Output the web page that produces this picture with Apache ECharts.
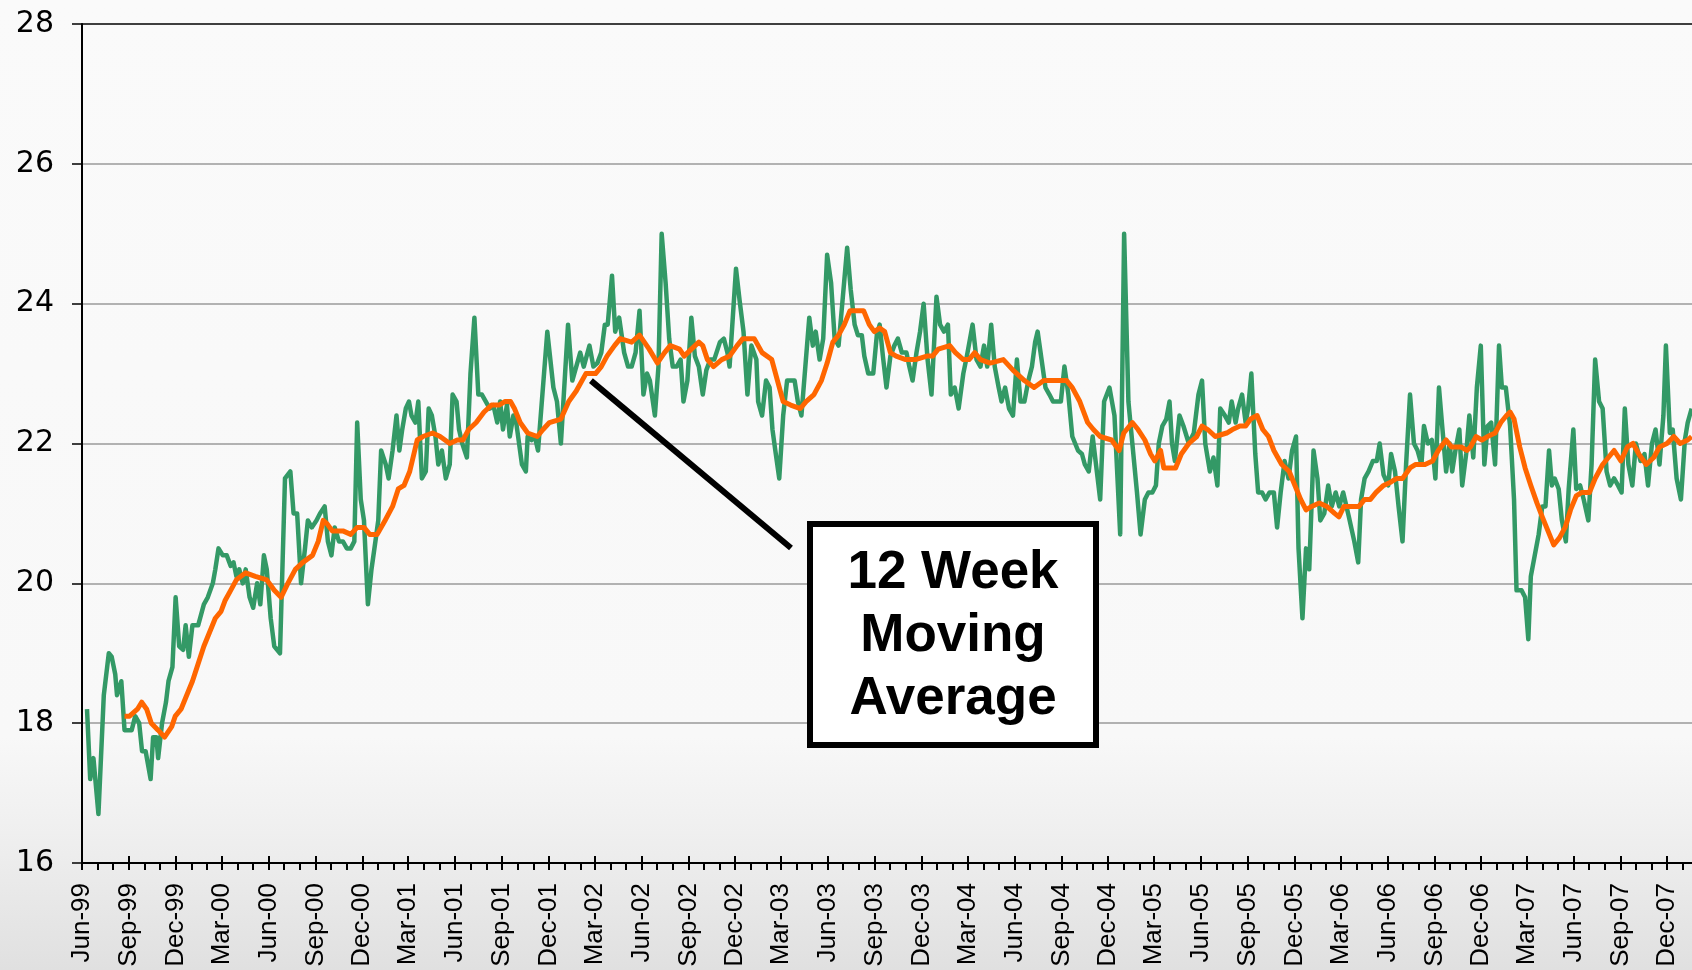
<!DOCTYPE html>
<html>
<head>
<meta charset="utf-8">
<title>12 Week Moving Average</title>
<script src="https://cdn.jsdelivr.net/npm/echarts@6/dist/echarts.min.js"></script>
<style>
  html, body { margin: 0; padding: 0; background: #fafafa; }
  #chart { width: 1692px; height: 970px; }
</style>
</head>
<body>
<div id="chart"></div>
<script>
// weeks counted from 1 Jun 1999
const weeklyWeeks = [
  1.4, 2.3, 3.2, 4.6, 6.1, 7.5, 8.3, 9.3, 9.8, 11.0, 11.9, 13.9, 14.9, 16.0, 16.8, 17.8, 19.2, 19.9, 20.8, 21.3,
  22.4, 23.5, 24.2, 25.3, 26.2, 27.2, 28.3, 29.0, 29.9, 30.9, 32.5, 34.1, 35.2, 36.6, 37.3, 38.2, 39.4, 40.5, 41.6, 42.4,
  43.2, 44.0, 45.0, 45.8, 46.9, 47.9, 49.0, 49.9, 50.9, 51.7, 52.8, 53.8, 55.4, 56.8, 58.3, 59.2, 60.2, 61.3, 62.4, 63.2,
  64.3, 65.6, 66.6, 67.9, 68.8, 69.8, 70.7, 71.9, 73.0, 74.1, 75.2, 76.2, 77.0, 78.0, 78.9, 80.0, 81.0, 82.1, 82.9, 83.7,
  85.0, 85.8, 86.9, 88.0, 88.8, 89.6, 90.6, 91.5, 92.2, 93.3, 94.1, 95.1, 96.2, 97.0, 97.9, 98.9, 99.7, 100.7, 101.8, 102.9,
  103.7, 104.8, 105.5, 106.4, 107.7, 108.7, 109.8, 110.9, 111.9, 113.0, 114.1, 115.1, 116.2, 117.0, 117.8, 118.9, 119.7, 120.7, 121.5, 122.3,
  123.1, 124.2, 124.7, 125.8, 126.7, 127.6, 130.2, 131.9, 132.9, 134.0, 136.0, 137.2, 139.4, 140.4, 142.0, 143.1, 144.2, 145.3, 146.3, 147.1,
  148.3, 149.2, 150.3, 151.7, 152.8, 153.8, 154.9, 156.0, 157.1, 158.1, 158.9, 160.3, 161.3, 162.2, 163.3, 164.3, 165.3, 166.4, 167.5, 168.3,
  169.4, 170.5, 171.5, 172.6, 173.7, 174.7, 175.8, 176.9, 178.5, 179.6, 180.6, 181.2, 183.0, 184.0, 185.1, 186.2, 187.3, 188.7, 189.2, 190.3,
  191.4, 192.4, 193.2, 194.0, 195.1, 196.2, 197.3, 199.4, 200.3, 201.3, 202.4, 203.5, 204.5, 205.3, 206.4, 207.4, 208.5, 209.6, 210.6, 211.7,
  214.1, 215.1, 216.2, 217.1, 218.2, 218.9, 220.0, 221.4, 222.4, 223.2, 224.1, 225.1, 226.2, 227.3, 228.3, 229.4, 230.7, 231.5, 232.4, 233.5,
  234.5, 235.5, 236.6, 237.7, 239.1, 240.1, 241.2, 242.3, 243.1, 244.2, 245.3, 246.6, 247.6, 249.2, 250.3, 251.4, 252.4, 253.3, 254.4, 255.4,
  256.5, 257.3, 258.3, 259.4, 260.5, 261.6, 262.6, 263.7, 264.8, 265.8, 266.7, 267.4, 268.5, 269.6, 270.7, 271.7, 273.9, 274.9, 276.0, 277.1,
  278.7, 279.8, 280.6, 281.7, 282.8, 284.9, 286.0, 287.5, 288.9, 290.5, 291.6, 292.8, 293.9, 295.2, 296.2, 297.4, 298.4, 299.5, 300.5, 301.3,
  302.3, 303.4, 304.3, 305.0, 305.8, 307.1, 308.2, 309.7, 311.1, 312.4, 313.4, 314.3, 315.6, 316.6, 317.7, 318.5, 319.8, 320.9, 321.7, 322.8,
  323.5, 324.6, 325.6, 326.3, 327.2, 328.3, 329.1, 330.2, 331.2, 332.3, 333.5, 334.4, 335.4, 336.5, 337.6, 338.6, 339.7, 340.4, 341.5, 342.5,
  343.4, 344.6, 345.7, 346.5, 347.6, 348.7, 349.7, 350.8, 351.8, 352.9, 354.5, 356.0, 357.1, 357.9, 358.9, 360.0, 361.2, 362.3, 363.1, 364.2,
  365.5, 366.3, 367.4, 368.4, 369.5, 370.5, 371.6, 372.7, 373.7, 374.8, 375.5, 376.6, 377.7, 378.7, 379.7, 380.6, 381.7, 382.7, 383.4, 384.3,
  385.4, 386.2, 387.3, 388.2, 389.3, 390.3, 391.4, 392.4, 393.3, 394.3, 395.4, 396.5, 397.3, 398.4, 399.6, 400.7, 401.4, 402.8, 403.8, 404.7,
  405.4, 406.5, 407.6, 408.6, 409.5, 410.5, 411.3, 412.1, 413.2, 414.1, 415.2, 416.0, 417.3, 418.1, 419.2, 420.2, 421.5, 422.4, 423.4, 424.5,
  425.5, 426.6, 427.6, 428.7, 429.8, 430.8, 431.7, 432.7, 433.8, 434.8, 436.1, 437.2, 438.2, 439.3, 440.3, 441.4, 442.5, 443.2, 444.3, 445.1,
  446.2, 447.4, 448.5, 449.3, 450.4
];
const weeklyValues = [
  18.2, 17.2, 17.5, 16.7, 18.4, 19.0, 18.95, 18.7, 18.4, 18.6, 17.9, 17.9, 18.1, 18.0, 17.6, 17.6, 17.2, 17.8, 17.8, 17.5,
  18.0, 18.3, 18.6, 18.8, 19.8, 19.1, 19.05, 19.4, 18.95, 19.4, 19.4, 19.7, 19.8, 20.0, 20.2, 20.5, 20.4, 20.4, 20.25, 20.3,
  20.1, 20.2, 20.0, 20.2, 19.8, 19.65, 20.0, 19.7, 20.4, 20.2, 19.5, 19.1, 19.0, 21.5, 21.6, 21.0, 21.0, 20.0, 20.5, 20.9,
  20.8, 20.9, 21.0, 21.1, 20.6, 20.4, 20.8, 20.6, 20.6, 20.5, 20.5, 20.6, 22.3, 21.2, 20.9, 19.7, 20.2, 20.6, 20.9, 21.9,
  21.7, 21.5, 21.9, 22.4, 21.9, 22.2, 22.5, 22.6, 22.4, 22.3, 22.6, 21.5, 21.6, 22.5, 22.4, 22.1, 21.7, 21.9, 21.5, 21.7,
  22.7, 22.6, 22.2, 22.0, 21.8, 23.0, 23.8, 22.7, 22.7, 22.6, 22.5, 22.55, 22.3, 22.6, 22.2, 22.55, 22.1, 22.4, 22.3, 22.0,
  21.7, 21.6, 22.1, 22.05, 22.1, 21.9, 23.6, 22.8, 22.6, 22.0, 23.7, 22.9, 23.3, 23.1, 23.4, 23.1, 23.15, 23.3, 23.7, 23.7,
  24.4, 23.6, 23.8, 23.3, 23.1, 23.1, 23.3, 23.9, 22.7, 23.0, 22.9, 22.4, 23.1, 25.0, 24.3, 23.5, 23.1, 23.1, 23.2, 22.6,
  22.9, 23.8, 23.25, 23.1, 22.7, 23.05, 23.2, 23.2, 23.45, 23.5, 23.3, 23.1, 24.5, 24.05, 23.6, 22.7, 23.4, 23.2, 22.6, 22.4,
  22.9, 22.8, 22.2, 21.9, 21.5, 22.4, 22.9, 22.9, 22.6, 22.4, 23.1, 23.8, 23.4, 23.6, 23.2, 23.5, 24.7, 24.3, 23.5, 23.4,
  24.8, 24.2, 23.7, 23.55, 23.55, 23.25, 23.0, 23.0, 23.55, 23.7, 23.25, 22.8, 23.25, 23.4, 23.5, 23.3, 23.3, 23.1, 22.9, 23.3,
  23.6, 24.0, 23.2, 22.7, 24.1, 23.7, 23.6, 23.7, 22.7, 22.8, 22.5, 23.0, 23.25, 23.7, 23.2, 23.1, 23.4, 23.1, 23.7, 23.1,
  22.8, 22.6, 22.8, 22.5, 22.4, 23.2, 22.6, 22.6, 22.9, 23.1, 23.45, 23.6, 23.2, 22.8, 22.7, 22.6, 22.6, 23.1, 22.7, 22.1,
  21.9, 21.85, 21.7, 21.6, 22.1, 21.2, 22.6, 22.8, 22.4, 20.7, 25.0, 22.6, 22.0, 21.3, 20.7, 21.2, 21.3, 21.3, 21.4, 22.0,
  22.25, 22.35, 22.6, 22.0, 21.75, 22.4, 22.25, 22.0, 22.15, 22.7, 22.9, 22.0, 21.6, 21.8, 21.4, 22.5, 22.4, 22.3, 22.6, 22.3,
  22.5, 22.7, 22.3, 22.5, 23.0, 21.85, 21.3, 21.3, 21.2, 21.3, 21.3, 20.8, 21.3, 21.75, 21.5, 21.9, 22.1, 20.5, 19.5, 20.5,
  20.2, 21.9, 21.5, 20.9, 21.0, 21.4, 21.1, 21.3, 21.1, 21.3, 20.95, 20.6, 20.3, 21.2, 21.5, 21.6, 21.75, 21.75, 22.0, 21.55,
  21.4, 21.85, 21.6, 21.1, 20.6, 21.7, 22.7, 22.0, 21.9, 21.7, 22.25, 22.0, 22.05, 21.5, 22.8, 22.25, 21.6, 22.0, 21.6, 21.9,
  22.2, 21.4, 21.85, 22.4, 21.8, 22.8, 23.4, 21.7, 22.25, 22.3, 21.7, 23.4, 22.8, 22.8, 22.25, 21.2, 19.9, 19.9, 19.8, 19.2,
  20.1, 20.4, 20.7, 21.1, 21.1, 21.9, 21.4, 21.5, 21.35, 20.9, 20.6, 21.35, 22.2, 21.35, 21.4, 21.2, 20.9, 21.7, 23.2, 22.6,
  22.5, 21.6, 21.4, 21.5, 21.4, 21.3, 22.5, 21.7, 21.4, 22.0, 21.75, 21.85, 21.4, 22.0, 22.2, 21.7, 22.4, 23.4, 22.15, 22.2,
  21.5, 21.2, 22.05, 22.3, 22.5
];

const avgWeeks = [
  11.9, 13.3, 15.5, 16.7, 18.1, 19.4, 21.3, 23.1, 25.1, 26.1, 27.7, 29.3, 30.9, 32.5, 34.1, 35.7, 37.3, 38.9, 40.0, 41.6,
  43.2, 45.8, 48.5, 51.7, 53.8, 55.7, 57.6, 59.7, 61.8, 64.5, 66.1, 67.5, 68.6, 70.0, 73.0, 75.2, 77.0, 78.9, 80.5, 82.6,
  84.8, 86.9, 88.5, 90.1, 91.7, 93.8, 95.4, 98.1, 100.2, 102.9, 105.0, 106.6, 108.2, 110.3, 112.5, 114.6, 116.7, 118.3, 119.9, 121.0,
  122.6, 124.7, 127.4, 129.0, 130.8, 134.0, 136.2, 138.3, 141.0, 143.7, 145.3, 146.9, 149.0, 150.6, 153.8, 156.0, 158.7, 161.0, 163.0, 164.6,
  167.2, 168.5, 170.5, 172.6, 173.7, 175.0, 176.7, 179.0, 181.2, 183.3, 184.9, 188.1, 190.3, 193.0, 194.6, 196.2, 198.3, 201.0, 202.6, 204.8,
  206.9, 208.5, 210.1, 211.7, 213.3, 214.9, 216.5, 218.7, 220.3, 221.7, 223.2, 224.6, 226.2, 227.8, 230.5, 233.2, 236.4, 238.0, 239.6, 242.8,
  244.4, 246.6, 248.2, 249.8, 251.4, 254.1, 257.8, 260.5, 263.7, 266.4, 269.1, 271.7, 273.4, 275.5, 277.1, 279.2, 281.4, 283.0, 284.9, 288.1,
  290.2, 291.5, 293.9, 295.5, 297.4, 299.0, 300.2, 301.8, 302.7, 304.5, 306.0, 307.6, 309.7, 311.9, 313.4, 315.0, 317.1, 320.3, 321.9, 324.0,
  325.6, 327.0, 328.8, 330.4, 332.0, 333.5, 335.7, 337.8, 339.4, 341.0, 342.5, 344.1, 346.2, 348.3, 350.5, 351.7, 353.1, 355.2, 357.3, 358.9,
  360.5, 362.1, 364.2, 366.3, 367.9, 369.5, 371.6, 373.2, 375.8, 377.9, 379.5, 381.7, 383.2, 385.9, 387.5, 388.5, 390.1, 391.7, 393.3, 395.4,
  397.0, 398.6, 399.6, 400.7, 402.3, 403.8, 405.4, 407.1, 408.6, 410.2, 411.8, 413.4, 415.0, 416.5, 418.1, 419.7, 421.8, 423.4, 425.5, 427.1,
  428.7, 430.6, 432.4, 434.0, 435.6, 437.7, 439.8, 441.4, 443.5, 445.4, 447.2, 449.3, 450.4
];
const avgValues = [
  18.1, 18.1, 18.2, 18.3, 18.2, 18.0, 17.9, 17.8, 17.95, 18.1, 18.2, 18.4, 18.6, 18.85, 19.1, 19.3, 19.5, 19.6, 19.75, 19.9,
  20.05, 20.15, 20.1, 20.05, 19.9, 19.8, 20.0, 20.2, 20.3, 20.4, 20.6, 20.9, 20.85, 20.75, 20.75, 20.7, 20.8, 20.8, 20.7, 20.7,
  20.9, 21.1, 21.35, 21.4, 21.6, 22.05, 22.1, 22.15, 22.1, 22.0, 22.05, 22.05, 22.2, 22.3, 22.45, 22.55, 22.55, 22.6, 22.6, 22.5,
  22.3, 22.15, 22.1, 22.2, 22.3, 22.35, 22.6, 22.75, 23.0, 23.0, 23.1, 23.25, 23.4, 23.5, 23.45, 23.55, 23.35, 23.15, 23.3, 23.4,
  23.35, 23.25, 23.35, 23.45, 23.4, 23.2, 23.1, 23.2, 23.25, 23.4, 23.5, 23.5, 23.3, 23.2, 22.9, 22.6, 22.55, 22.5, 22.6, 22.7,
  22.9, 23.15, 23.45, 23.55, 23.7, 23.9, 23.9, 23.9, 23.7, 23.6, 23.65, 23.6, 23.3, 23.25, 23.2, 23.2, 23.25, 23.25, 23.35, 23.4,
  23.3, 23.2, 23.2, 23.3, 23.2, 23.15, 23.2, 23.05, 22.9, 22.8, 22.9, 22.9, 22.9, 22.9, 22.8, 22.6, 22.3, 22.2, 22.1, 22.05,
  21.9, 22.15, 22.3, 22.2, 22.05, 21.85, 21.75, 21.9, 21.65, 21.65, 21.65, 21.85, 22.0, 22.1, 22.25, 22.2, 22.1, 22.15, 22.2, 22.25,
  22.25, 22.35, 22.4, 22.2, 22.1, 21.9, 21.7, 21.6, 21.4, 21.2, 21.05, 21.1, 21.15, 21.1, 21.0, 20.95, 21.1, 21.1, 21.1, 21.2,
  21.2, 21.3, 21.4, 21.45, 21.5, 21.5, 21.65, 21.7, 21.7, 21.75, 21.9, 22.05, 21.95, 21.95, 21.9, 21.95, 22.1, 22.05, 22.1, 22.15,
  22.3, 22.4, 22.45, 22.35, 21.95, 21.65, 21.4, 21.15, 20.95, 20.75, 20.55, 20.65, 20.8, 21.05, 21.25, 21.3, 21.3, 21.5, 21.7, 21.8,
  21.9, 21.75, 21.95, 22.0, 21.85, 21.7, 21.8, 21.95, 22.0, 22.1, 22.0, 22.05, 22.1
];

const quarterLabels = [
  'Jun-99', 'Sep-99', 'Dec-99', 'Mar-00', 'Jun-00', 'Sep-00', 'Dec-00', 'Mar-01', 'Jun-01', 'Sep-01',
  'Dec-01', 'Mar-02', 'Jun-02', 'Sep-02', 'Dec-02', 'Mar-03', 'Jun-03', 'Sep-03', 'Dec-03', 'Mar-04',
  'Jun-04', 'Sep-04', 'Dec-04', 'Mar-05', 'Jun-05', 'Sep-05', 'Dec-05', 'Mar-06', 'Jun-06', 'Sep-06',
  'Dec-06', 'Mar-07', 'Jun-07', 'Sep-07', 'Dec-07'
];
const yTicks = [16, 18, 20, 22, 24, 26, 28];

const MONTHS = ['Jan', 'Feb', 'Mar', 'Apr', 'May', 'Jun', 'Jul', 'Aug', 'Sep', 'Oct', 'Nov', 'Dec'];
const START = Date.UTC(1999, 5, 1);
const WEEK_MS = 7 * 864e5;
const X_MAX = 450.5;

const weeksAt = (year, month) => (Date.UTC(year, month, 1) - START) / WEEK_MS;
const labelWeek = (lbl) => {
  const [mon, yy] = lbl.split('-');
  const y = +yy < 50 ? 2000 + +yy : 1900 + +yy;
  return weeksAt(y, MONTHS.indexOf(mon));
};

const quarterPos = quarterLabels.map(labelWeek);
const monthPos = [];
for (let i = 0; ; i++) {
  const w = weeksAt(1999, 5 + i);
  if (w > X_MAX) break;
  monthPos.push(w);
}

const chart = echarts.init(document.getElementById('chart'));

const option = {
  animation: false,
  backgroundColor: {
    type: 'linear', x: 0, y: 0, x2: 0, y2: 1,
    colorStops: [
      { offset: 0, color: '#fafafa' },
      { offset: 0.76, color: '#f8f8f8' },
      { offset: 0.88, color: '#ededed' },
      { offset: 1, color: '#e0e0e0' }
    ]
  },
  grid: { left: 82, right: 0, top: 24, bottom: 107, containLabel: false },
  xAxis: [
    {
      type: 'value',
      min: 0,
      max: X_MAX,
      axisLine: { show: true, onZero: false, lineStyle: { color: '#000', width: 2 } },
      axisTick: { show: true, customValues: monthPos, length: 7, lineStyle: { color: '#000', width: 2 } },
      axisLabel: {
        customValues: quarterPos,
        rotate: 90,
        margin: 20,
        color: '#000',
        fontFamily: 'Liberation Sans, Arial, sans-serif',
        fontSize: 26,
        formatter: (v) => {
          const i = quarterPos.findIndex(p => Math.abs(p - v) < 0.01);
          return i >= 0 ? quarterLabels[i] : '';
        }
      },
      splitLine: { show: false }
    },
    {
      // longer quarter ticks crossing the axis line
      type: 'value',
      min: 0,
      max: X_MAX,
      position: 'bottom',
      axisLine: { show: false, onZero: false },
      axisTick: { show: true, inside: true, customValues: quarterPos, length: 7, lineStyle: { color: '#000', width: 2 } },
      axisLabel: { show: false },
      splitLine: { show: false }
    }
  ],
  yAxis: {
    type: 'value',
    min: 16,
    max: 28,
    interval: 2,
    axisLine: { show: true, lineStyle: { color: '#000', width: 2 } },
    axisTick: { show: true, length: 10, lineStyle: { color: '#000', width: 1.5 } },
    axisLabel: {
      margin: 28,
      color: '#000',
      fontFamily: 'DejaVu Sans, sans-serif',
      fontSize: 30
    },
    splitLine: {
      show: true,
      lineStyle: { color: yTicks.map(t => (t === 28 ? '#000' : '#9a9a9a')), width: 1.5 }
    }
  },
  series: [
    {
      name: 'Weekly',
      type: 'line',
      data: weeklyWeeks.map((w, i) => [w, weeklyValues[i]]),
      showSymbol: false,
      lineStyle: { color: '#339966', width: 4.5, join: 'round' },
      z: 3
    },
    {
      name: '12 Week Moving Average',
      type: 'line',
      data: avgWeeks.map((w, i) => [w, avgValues[i]]),
      showSymbol: false,
      lineStyle: { color: '#ff6600', width: 5, join: 'round' },
      z: 4
    }
  ]
};

chart.setOption(option);

// callout box with pointer to the average line
const tip = chart.convertToPixel({ xAxisIndex: 0, yAxisIndex: 0 }, [142.4, 22.9]);
chart.setOption({
  graphic: [
    {
      type: 'line',
      shape: { x1: tip[0], y1: tip[1], x2: 791, y2: 548 },
      style: { stroke: '#000', lineWidth: 6 },
      z: 10
    },
    {
      type: 'rect',
      shape: { x: 810, y: 524, width: 286, height: 221 },
      style: { fill: '#fff', stroke: '#000', lineWidth: 6 },
      z: 10
    },
    {
      type: 'text',
      x: 953,
      y: 636,
      style: {
        text: '12 Week\nMoving\nAverage',
        fill: '#000',
        font: 'bold 53px "Liberation Sans", Arial, sans-serif',
        lineHeight: 63,
        align: 'center',
        verticalAlign: 'middle'
      },
      z: 11
    }
  ]
});
</script>
</body>
</html>
